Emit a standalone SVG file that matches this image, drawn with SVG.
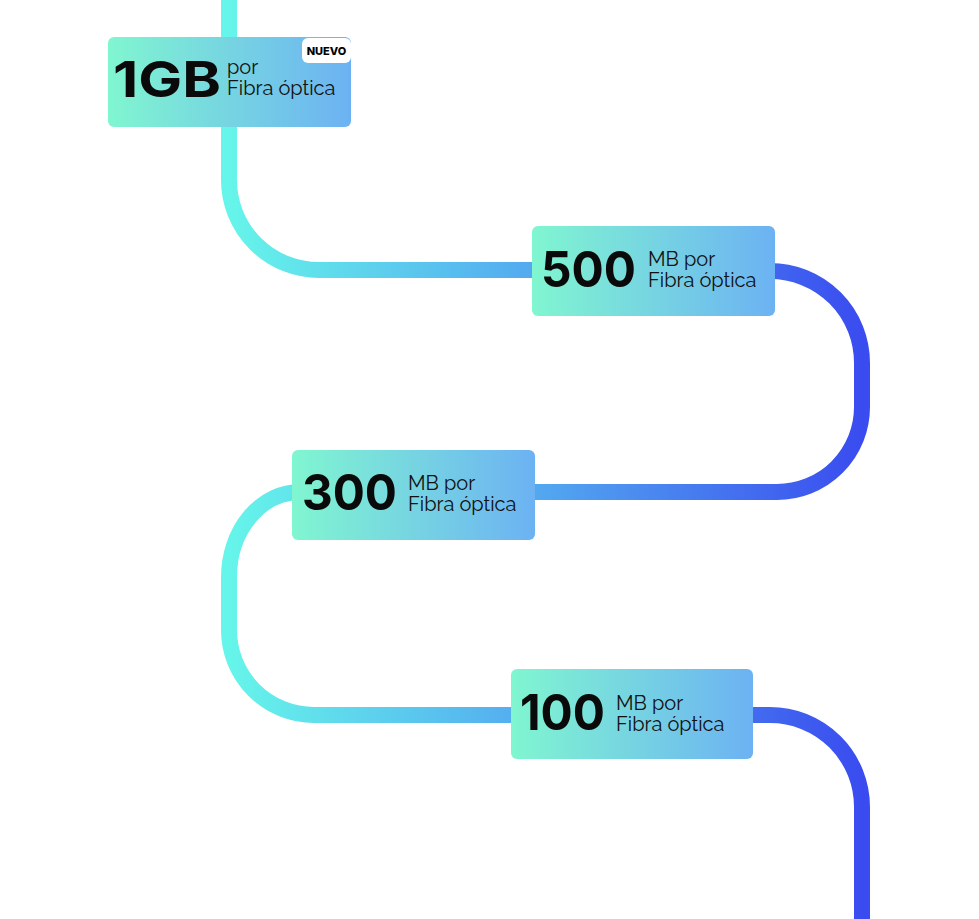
<svg xmlns="http://www.w3.org/2000/svg" width="979" height="919" viewBox="0 0 979 919">
<defs>
<linearGradient id="pipe" gradientUnits="userSpaceOnUse" x1="229" y1="0" x2="862" y2="0">
<stop offset="0" stop-color="#66f5ea"/><stop offset="0.5" stop-color="#52a6f0"/><stop offset="1" stop-color="#3a4cef"/>
</linearGradient>
<linearGradient id="box" x1="0" y1="0" x2="1" y2="0">
<stop offset="0" stop-color="#80f6d0"/><stop offset="1" stop-color="#6cb2f3"/>
</linearGradient>
<style>
.big{font-family:Inter,"Liberation Sans",sans-serif;font-weight:700;font-size:50px;fill:#0a0a0a}
.sm{font-family:Raleway,"Open Sans","Liberation Sans",sans-serif;font-size:20px;fill:#111}
.b{fill:url(#box)}
</style>
</defs>
<g id="connectors" fill="none" stroke="url(#pipe)" stroke-width="16">
<path d="M229 0 V180 A90 90 0 0 0 319 270 H540 M770 271 A92 92 0 0 1 862 363 V407 A85 85 0 0 1 777 492 H530 M300 492 A71 85 0 0 0 229 577 V630 A85 85 0 0 0 314 715 H520 M750 715 H770 A92 92 0 0 1 862 807 V919"/>
</g>
<g id="n1gb">
<rect class="b" x="108" y="37" width="243" height="90" rx="6"/>
<rect x="302" y="38" width="49" height="25" rx="6" fill="#fff"/>
<text x="326.5" y="55" text-anchor="middle" font-family="Inter,'Liberation Sans',sans-serif" font-weight="800" font-size="11" fill="#000">NUEVO</text>
<text class="big" x="113" y="97" textLength="108" lengthAdjust="spacingAndGlyphs">1GB</text>
<text class="sm" x="227" y="74">por</text>
<text class="sm" x="227" y="95">Fibra óptica</text>
</g>
<g id="n500">
<rect class="b" x="532" y="226" width="243" height="90" rx="6"/>
<text class="big" x="541" y="287" textLength="95" lengthAdjust="spacingAndGlyphs">500</text>
<text class="sm" x="648" y="266">MB por</text>
<text class="sm" x="648" y="287">Fibra óptica</text>
</g>
<g id="n300">
<rect class="b" x="292" y="450" width="243" height="90" rx="6"/>
<text class="big" x="302" y="510" textLength="95" lengthAdjust="spacingAndGlyphs">300</text>
<text class="sm" x="408" y="490">MB por</text>
<text class="sm" x="408" y="511">Fibra óptica</text>
</g>
<g id="n100">
<rect class="b" x="511" y="669" width="242" height="90" rx="6"/>
<text class="big" x="520" y="730" textLength="85" lengthAdjust="spacingAndGlyphs">100</text>
<text class="sm" x="616" y="710">MB por</text>
<text class="sm" x="616" y="731">Fibra óptica</text>
</g>
</svg>
